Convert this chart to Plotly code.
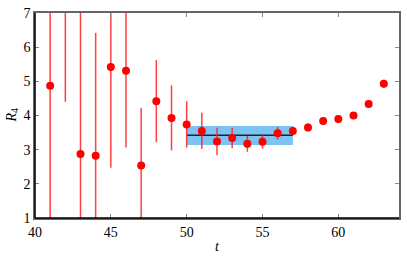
import plotly.graph_objects as go

t = [41, 42, 43, 44, 45, 46, 47, 48, 49, 50, 51, 52, 53, 54, 55, 56, 57, 58, 59, 60, 61, 62, 63]
r4 = [4.87, 7.9, 2.87, 2.82, 5.42, 5.31, 2.54, 4.42, 3.93, 3.74, 3.55, 3.24, 3.34, 3.17, 3.23, 3.48, 3.55, 3.65, 3.84, 3.90, 4.00, 4.34, 4.93]
r4_err = [4.5, 3.5, 4.5, 3.6, 2.95, 2.25, 1.68, 1.2, 0.95, 0.68, 0.53, 0.40, 0.30, 0.23, 0.20, 0.18, 0.13, 0.12, 0.10, 0.10, 0.10, 0.10, 0.12]

fit_t = [50, 57]
fit_val = 3.42
fit_lo = 3.14
fit_hi = 3.69

x_ticks = [40, 45, 50, 55, 60]
y_ticks = [1, 2, 3, 4, 5, 6, 7]

font = "Liberation Serif"

fig = go.Figure()
fig.add_trace(go.Scatter(
    x=[fit_t[0], fit_t[1], fit_t[1], fit_t[0], fit_t[0]],
    y=[fit_lo, fit_lo, fit_hi, fit_hi, fit_lo],
    fill="toself", fillcolor="rgba(100,185,240,0.85)", line=dict(width=0),
    mode="lines", hoverinfo="skip", showlegend=False))
fig.add_trace(go.Scatter(
    x=fit_t, y=[fit_val, fit_val], mode="lines",
    line=dict(color="#222222", width=1.5), showlegend=False))
fig.add_trace(go.Scatter(
    x=t, y=r4, mode="markers",
    marker=dict(color="#ff0000", size=8),
    error_y=dict(type="data", array=r4_err, visible=True, color="rgba(255,30,30,0.85)", thickness=1.5, width=0),
    showlegend=False))

axis_common = dict(
    showgrid=False, zeroline=False, showline=True, linecolor="#666666", linewidth=1.5,
    mirror="ticks", ticks="inside", ticklen=4, tickcolor="#888888", tickwidth=1,
    automargin=False,
    tickfont=dict(family=font, size=14, color="black"))

fig.update_xaxes(range=[40, 64], tickvals=x_ticks, **axis_common)
fig.update_yaxes(range=[1, 7], tickvals=y_ticks, **axis_common)

fig.add_shape(type="line", xref="paper", yref="paper", x0=0, x1=0, y0=0, y1=1,
              line=dict(color="black", width=1.5))
fig.add_shape(type="line", xref="paper", yref="paper", x0=0, x1=1, y0=0, y1=0,
              line=dict(color="black", width=1.5))

fig.add_annotation(text="<i>t</i>", xref="paper", yref="paper", x=0.5, y=0,
                   yshift=-19, yanchor="top", showarrow=False,
                   font=dict(family=font, size=14, color="black"))
fig.add_annotation(text="<i>R</i><sub>4</sub>", xref="paper", yref="paper", x=0, y=0.5,
                   xshift=-23, xanchor="center", textangle=-90, showarrow=False,
                   font=dict(family=font, size=14, color="black"))

fig.update_layout(
    width=407, height=259,
    margin=dict(l=35, r=8, t=13, b=41),
    paper_bgcolor="white", plot_bgcolor="white",
    font=dict(family=font, size=14, color="black"))

fig.write_html("out.html", config={"displayModeBar": False},
               post_script="document.body.style.margin='0px';")
